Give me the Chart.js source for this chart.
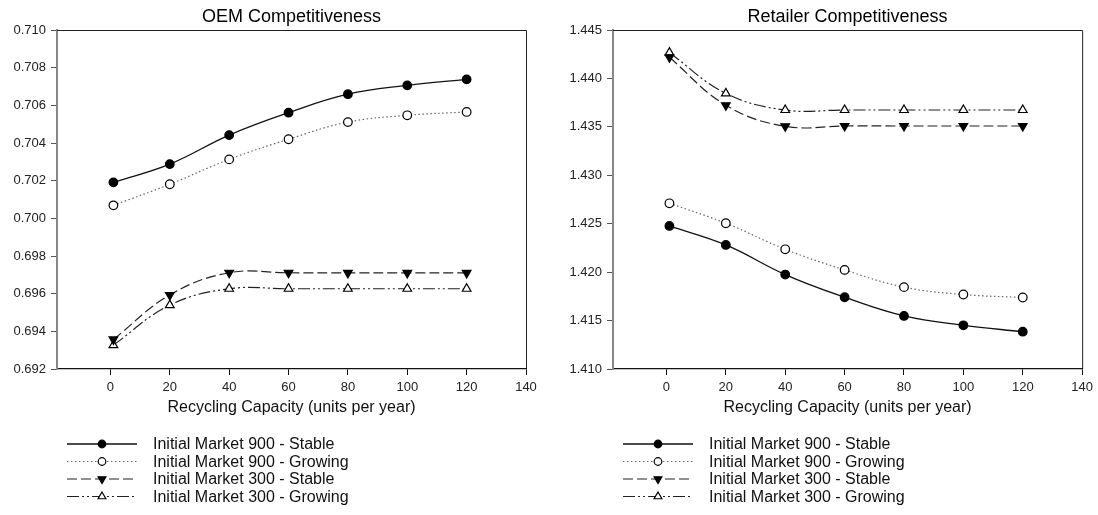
<!DOCTYPE html>
<html>
<head>
<meta charset="utf-8">
<title>Competitiveness vs Recycling Capacity</title>
<script src="https://cdn.jsdelivr.net/npm/chart.js@4.4.1/dist/chart.umd.min.js"></script>
<style>
  html, body { margin: 0; padding: 0; background: #fff; }
  #wrap { width: 1098px; height: 515px; display: flex; }
  .cell { width: 549px; height: 515px; position: relative; }
</style>
</head>
<body>
<div id="wrap">
  <div class="cell"><canvas id="oem"></canvas></div>
  <div class="cell"><canvas id="retail"></canvas></div>
</div>
<script>
// Recycling capacity (units per year)
const capacity = [1, 20, 40, 60, 80, 100, 120];
const xTicks = [0, 20, 40, 60, 80, 100, 120, 140];

const seriesNames = [
  'Initial Market 900 - Stable',
  'Initial Market 900 - Growing',
  'Initial Market 300 - Stable',
  'Initial Market 300 - Growing'
];

// OEM competitiveness
const oem900Stable  = [0.70191, 0.70288, 0.70442, 0.70561, 0.70659, 0.70706, 0.70738];
const oem900Growing = [0.70069, 0.70181, 0.70313, 0.70420, 0.70511, 0.70547, 0.70565];
const oem300Stable  = [0.69357, 0.69593, 0.69711, 0.69711, 0.69710, 0.69710, 0.69710];
const oem300Growing = [0.69327, 0.69539, 0.69626, 0.69626, 0.69626, 0.69626, 0.69626];

// Retailer competitiveness
const ret900Stable  = [1.42477, 1.42281, 1.41975, 1.41741, 1.41548, 1.41451, 1.41385];
const ret900Growing = [1.42711, 1.42505, 1.42236, 1.42023, 1.41845, 1.41769, 1.41738];
const ret300Stable  = [1.44218, 1.43723, 1.43506, 1.43509, 1.43509, 1.43509, 1.43509];
const ret300Growing = [1.44266, 1.43846, 1.43674, 1.43674, 1.43674, 1.43674, 1.43674];

const FONT = '"Liberation Sans", Arial, Helvetica, sans-serif';

// line/marker look of the four series
const styles = [
  { color: '#111', dash: [],                 width: 1.3, point: 'circle',   rot: 0,   fill: '#000' },
  { color: '#666', dash: [1.5, 2.5],         width: 1.2, point: 'circle',   rot: 0,   fill: '#fff' },
  { color: '#222', dash: [10, 4],            width: 1.2, point: 'triangle', rot: 180, fill: '#000' },
  { color: '#222', dash: [12, 3, 2, 3, 2, 3], width: 1.2, point: 'triangle', rot: 0,   fill: '#fff' }
];

function makeDatasets(arrays) {
  return arrays.map((vals, i) => {
    const s = styles[i];
    return {
      label: seriesNames[i],
      data: capacity.map((x, k) => ({ x: x, y: vals[k] })),
      borderColor: s.color,
      borderWidth: s.width,
      borderDash: s.dash,
      tension: 0.4,
      pointStyle: s.point,
      pointRotation: s.rot,
      pointRadius: s.point === 'circle' ? 4.3 : 5,
      pointBackgroundColor: s.fill,
      pointBorderColor: '#000',
      pointBorderWidth: 1.2,
      fill: false
    };
  });
}

// frame on top/right plus the hand-drawn legend under the x-axis title
const framePlugin = {
  id: 'frameAndLegend',
  afterDatasetsDraw(chart) {
    const { ctx, chartArea: a } = chart;
    ctx.save();
    ctx.strokeStyle = '#222';
    ctx.lineWidth = 1;
    ctx.setLineDash([]);
    ctx.beginPath();
    ctx.moveTo(a.left, a.top + 0.5);
    ctx.lineTo(a.right + 0.5, a.top + 0.5);
    ctx.lineTo(a.right + 0.5, a.bottom);
    ctx.stroke();
    ctx.restore();
  },
  afterDraw(chart) {
    const { ctx, chartArea: a } = chart;
    const rows = [444, 461.5, 479, 496.5];
    const x0 = a.left + 10, x1 = a.left + 80, xm = a.left + 45, xt = a.left + 96;
    ctx.save();
    chart.data.datasets.forEach((ds, i) => {
      const y = rows[i];
      ctx.strokeStyle = ds.borderColor;
      ctx.lineWidth = ds.borderWidth;
      ctx.setLineDash(ds.borderDash);
      ctx.beginPath();
      ctx.moveTo(x0, y);
      ctx.lineTo(x1, y);
      ctx.stroke();
      ctx.setLineDash([]);
      ctx.fillStyle = ds.pointBackgroundColor;
      ctx.strokeStyle = ds.pointBorderColor;
      ctx.lineWidth = ds.pointBorderWidth;
      Chart.helpers.drawPoint(ctx, {
        pointStyle: ds.pointStyle,
        rotation: ds.pointRotation,
        borderWidth: ds.pointBorderWidth,
        radius: ds.pointStyle === 'circle' ? 3.8 : 4.5
      }, xm, y);
      ctx.fillStyle = '#111';
      ctx.font = '16px ' + FONT;
      ctx.textBaseline = 'middle';
      ctx.textAlign = 'left';
      ctx.fillText(ds.label, xt, y + 1);
    });
    ctx.restore();
  }
};

function makeChart(id, title, arrays, yMin, yMax, yStep, yWidth, padRight) {
  return new Chart(document.getElementById(id), {
    type: 'line',
    data: { datasets: makeDatasets(arrays) },
    plugins: [framePlugin],
    options: {
      responsive: true,
      maintainAspectRatio: false,
      animation: false,
      layout: { padding: { left: 0, right: padRight, top: 0, bottom: 0 } },
      plugins: {
        legend: { display: false },
        tooltip: { enabled: false },
        title: {
          display: true,
          text: title,
          fullSize: false,
          color: '#000',
          font: { family: FONT, size: 18, weight: 'normal', lineHeight: 1.2 },
          padding: { top: 6.5, bottom: 1.9 }
        }
      },
      scales: {
        x: {
          type: 'linear',
          min: -18,
          max: 140,
          afterBuildTicks(scale) { scale.ticks = xTicks.map(v => ({ value: v })); },
          afterFit(scale) { scale.height = 146; },
          border: { display: true, color: '#111', width: 1.3 },
          grid: { display: true, drawOnChartArea: false, drawTicks: true, tickLength: 6, color: '#111', lineWidth: 1 },
          ticks: { color: '#222', padding: 5, maxRotation: 0, font: { family: FONT, size: 13 } },
          title: {
            display: true,
            text: 'Recycling Capacity (units per year)',
            color: '#111',
            font: { family: FONT, size: 16, lineHeight: 1.2 },
            padding: { top: 0, bottom: 97.4 }
          }
        },
        y: {
          type: 'linear',
          min: yMin,
          max: yMax,
          afterFit(scale) { scale.width = yWidth; },
          border: { display: true, color: '#888', width: 2 },
          grid: { display: true, drawOnChartArea: false, drawTicks: true, tickLength: 6, color: '#555', lineWidth: 1 },
          ticks: {
            stepSize: yStep,
            color: '#222',
            padding: 5,
            font: { family: FONT, size: 13 },
            callback: v => Number(v).toFixed(3)
          }
        }
      }
    }
  });
}

makeChart('oem', 'OEM Competitiveness',
  [oem900Stable, oem900Growing, oem300Stable, oem300Growing],
  0.692, 0.710, 0.002, 57, 23);

makeChart('retail', 'Retailer Competitiveness',
  [ret900Stable, ret900Growing, ret300Stable, ret300Growing],
  1.410, 1.445, 0.005, 64, 15);
</script>
</body>
</html>
